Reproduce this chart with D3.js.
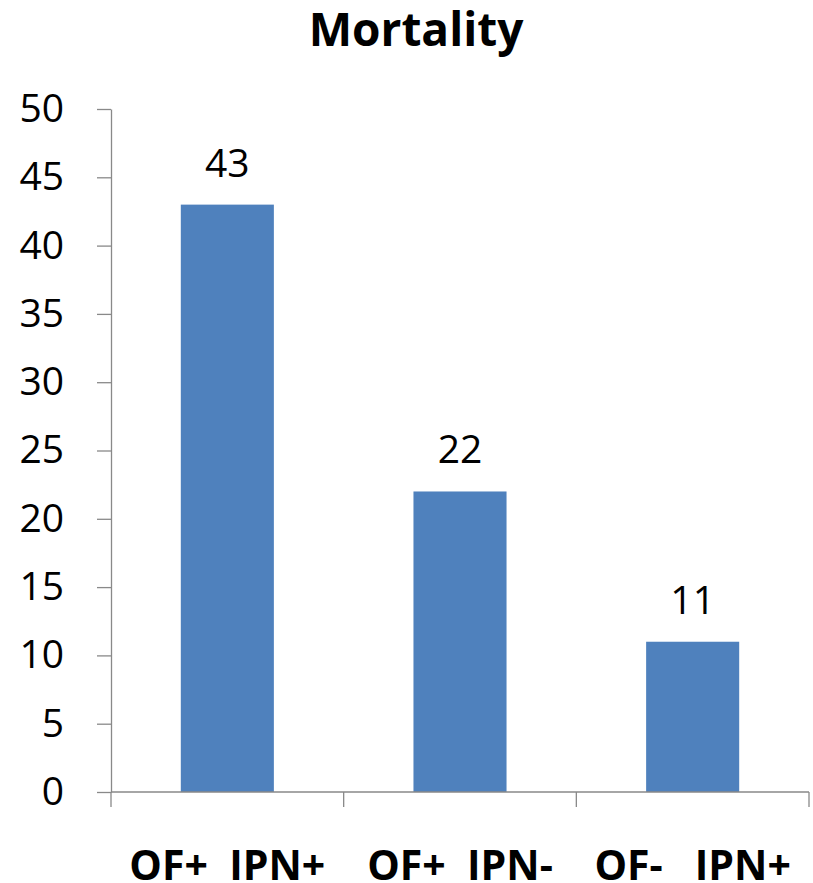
<!DOCTYPE html>
<html>
<head>
<meta charset="utf-8">
<script src="https://cdn.jsdelivr.net/npm/d3@7"></script>
<style>
  html, body { margin: 0; padding: 0; background: #fff; }
  svg { display: block; }
</style>
</head>
<body>
<svg id="chart" width="813" height="883"></svg>
<script>
// Mortality by OF / IPN status
const categories = ["OF+  IPN+", "OF+  IPN-", "OF-   IPN+"];
const mortality = [43, 22, 11];
const yTicks = [0, 5, 10, 15, 20, 25, 30, 35, 40, 45, 50];
const title = "Mortality";

const svg = d3.select("#chart");
const plotLeft = 111, plotRight = 809, plotTop = 109, plotBottom = 792;
const axisColor = "#898989";
const barColor = "#4F81BD";
const font = "'Open Sans', 'Liberation Sans', sans-serif";

const x = d3.scaleBand()
  .domain(categories)
  .range([plotLeft, plotRight])
  .paddingInner(0.6)
  .paddingOuter(0.3);

const y = d3.scaleLinear()
  .domain([0, 50])
  .range([plotBottom, plotTop]);

// Title
svg.append("text")
  .attr("x", 416)
  .attr("y", 46)
  .attr("text-anchor", "middle")
  .attr("font-family", font)
  .attr("font-weight", "bold")
  .attr("font-size", 46)
  .attr("fill", "#000")
  .text(title);

// Bars
svg.append("g").selectAll("rect")
  .data(mortality)
  .join("rect")
  .attr("x", (d, i) => x(categories[i]))
  .attr("y", d => y(d))
  .attr("width", x.bandwidth())
  .attr("height", d => y(0) - y(d))
  .attr("fill", barColor);

// Value labels
svg.append("g").selectAll("text")
  .data(mortality)
  .join("text")
  .attr("x", (d, i) => x(categories[i]) + x.bandwidth() / 2)
  .attr("y", d => y(d) - 28)
  .attr("text-anchor", "middle")
  .attr("font-family", font)
  .attr("font-size", 39)
  .attr("fill", "#000")
  .text(d => d);

// Y axis
const yAxis = svg.append("g")
  .attr("transform", `translate(${plotLeft},0)`)
  .call(d3.axisLeft(y).tickValues(yTicks).tickSize(14).tickSizeOuter(0).tickPadding(33));
yAxis.select(".domain").attr("stroke", axisColor).attr("stroke-width", 1.3);
yAxis.selectAll(".tick line").attr("stroke", axisColor).attr("stroke-width", 1.3);
yAxis.selectAll(".tick text")
  .attr("font-family", font)
  .attr("font-size", 39)
  .attr("fill", "#000");

// X axis: baseline with ticks at category boundaries
const xg = svg.append("g");
xg.append("line")
  .attr("x1", plotLeft).attr("x2", plotRight)
  .attr("y1", y(0)).attr("y2", y(0))
  .attr("stroke", axisColor).attr("stroke-width", 1.3);
const step = x.step();
const boundaries = d3.range(categories.length + 1).map(i => plotLeft + i * step);
xg.selectAll("line.tick")
  .data(boundaries)
  .join("line")
  .attr("class", "tick")
  .attr("x1", d => d).attr("x2", d => d)
  .attr("y1", y(0)).attr("y2", y(0) + 15)
  .attr("stroke", axisColor).attr("stroke-width", 1.3);

// Category labels
xg.selectAll("text")
  .data(categories)
  .join("text")
  .attr("x", d => x(d) + x.bandwidth() / 2)
  .attr("y", 880)
  .attr("text-anchor", "middle")
  .attr("font-family", font)
  .attr("font-weight", "bold")
  .attr("font-size", 41)
  .attr("fill", "#000")
  .style("white-space", "pre")
  .text(d => d);
</script>
</body>
</html>
